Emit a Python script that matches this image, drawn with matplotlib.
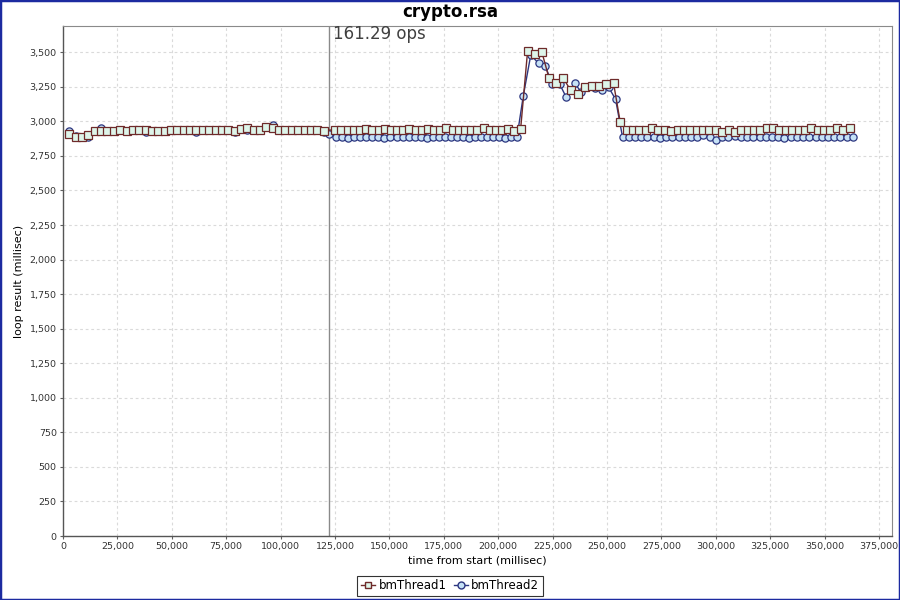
import matplotlib
matplotlib.use("Agg")
import matplotlib.pyplot as plt
from matplotlib.ticker import FuncFormatter, MultipleLocator
from matplotlib.lines import Line2D
from matplotlib.patches import Rectangle

title = "crypto.rsa"
marker_label = "161.29 ops"
marker_time = 122400
series_names = ["bmThread1", "bmThread2"]

# bmThread1: time from start (ms) and loop result (ms)
t1 = [2900, 5820, 8740, 11670, 14590, 17510, 20430, 23350, 26280, 29200,
      32120, 35040, 37960, 40890, 43810, 46730, 49650, 52570, 55500, 58420,
      61340, 64260, 67180, 70110, 73030, 75950, 78870, 81790, 84720, 87640,
      90560, 93480, 96400, 99330, 102250, 105170, 108090, 111010, 113940, 116860,
      119780,
      125140, 127980, 130820, 133660, 136500, 139340, 142170, 145010, 147850, 150690,
      153530, 156370, 159210, 162050, 164890, 167730, 170560, 173400, 176240, 179080,
      181920, 184760, 187600, 190440, 193280, 196120, 198950, 201790, 204630, 207470,
      210310,
      213510, 216800, 220100, 223390, 226680, 229980, 233270, 236560, 239850, 243150,
      246440, 249730, 253030,
      256110, 259040, 261960, 264890, 267820, 270750, 273670, 276600, 279530, 282450,
      285380, 288310, 291230, 294160, 297090, 300020, 302940, 305870, 308800, 311720,
      314650, 317580, 320500, 323430, 326360, 329290, 332210, 335140, 338070, 340990,
      343920, 346850, 349770, 352700, 355630, 358560, 361480]
v1 = [2907, 2890, 2890, 2902, 2931, 2933, 2931, 2933, 2938, 2931,
      2935, 2938, 2938, 2933, 2933, 2933, 2935, 2940, 2940, 2938,
      2938, 2938, 2938, 2940, 2940, 2938, 2933, 2943, 2950, 2940,
      2940, 2960, 2955, 2935, 2935, 2935, 2935, 2940, 2940, 2940,
      2933,
      2940, 2935, 2935, 2935, 2938, 2945, 2938, 2935, 2945, 2935,
      2940, 2938, 2945, 2935, 2938, 2945, 2935, 2938, 2955, 2935,
      2938, 2935, 2938, 2935, 2955, 2938, 2935, 2940, 2945, 2930,
      2943,
      3507, 3488, 3500, 3312, 3276, 3312, 3225, 3198, 3247, 3256,
      3256, 3271, 3276,
      2993, 2938, 2938, 2935, 2938, 2950, 2938, 2938, 2930, 2938,
      2940, 2938, 2938, 2935, 2938, 2938, 2925, 2938, 2925, 2938,
      2938, 2940, 2938, 2950, 2950, 2938, 2938, 2935, 2938, 2938,
      2950, 2938, 2938, 2938, 2950, 2935, 2950]

# bmThread2
t2 = [2900, 5820, 8740, 11670, 14590, 17510, 20430, 23350, 26280, 29200,
      32120, 35040, 37960, 40890, 43810, 46730, 49650, 52570, 55500, 58420,
      61340, 64260, 67180, 70110, 73030, 75950, 78870, 81790, 84720, 87640,
      90560, 93480, 96400, 99330, 102250, 105170, 108090, 111010, 113940, 116860,
      119780, 122400,
      125600, 128370, 131140, 133900, 136670, 139440, 142210, 144980, 147740, 150510,
      153280, 156050, 158820, 161580, 164350, 167120, 169890, 172660, 175420, 178190,
      180960, 183730, 186500, 189260, 192030, 194800, 197570, 200340, 203100, 205870,
      208640,
      211540, 214980, 218570, 221650, 224730, 228220, 231300, 235110, 238050, 240810,
      244300, 247520, 250740, 253950,
      257170, 260030, 262890, 265750, 268610, 271480, 274340, 277200, 280060, 282920,
      285780, 288640, 291500, 294360, 297220, 300090, 302950, 305810, 308670, 311530,
      314390, 317250, 320110, 322970, 325830, 328700, 331560, 334420, 337280, 340140,
      343000, 345860, 348720, 351580, 354440, 357310, 360170, 363030]
v2 = [2930, 2892, 2890, 2885, 2931, 2955, 2931, 2933, 2938, 2931,
      2935, 2938, 2925, 2933, 2933, 2933, 2935, 2940, 2940, 2938,
      2925, 2938, 2938, 2940, 2940, 2938, 2925, 2943, 2935, 2940,
      2940, 2960, 2975, 2935, 2935, 2935, 2935, 2940, 2940, 2940,
      2925, 2905,
      2885, 2885, 2883, 2885, 2885, 2888, 2885, 2885, 2883, 2885,
      2885, 2888, 2885, 2885, 2885, 2883, 2885, 2885, 2888, 2885,
      2885, 2885, 2883, 2885, 2885, 2888, 2885, 2885, 2883, 2890,
      2885,
      3184, 3480, 3420, 3403, 3271, 3271, 3174, 3276, 3215, 3247,
      3240, 3227, 3247, 3160,
      2885, 2885, 2885, 2888, 2885, 2885, 2882, 2885, 2885, 2885,
      2885, 2888, 2885, 2898, 2890, 2865, 2885, 2885, 2893, 2885,
      2885, 2885, 2888, 2885, 2885, 2885, 2882, 2885, 2885, 2885,
      2885, 2888, 2885, 2885, 2885, 2885, 2888, 2885]

c1_line, c1_face = "#6e2a2a", "#def5ea"
c2_line, c2_face = "#2c3680", "#c6e2f6"

fig = plt.figure(figsize=(9, 6), dpi=100)
fig.patch.set_facecolor("white")
fig.add_artist(Rectangle((0, 0), 1, 1, transform=fig.transFigure, fill=False,
                         edgecolor="#1c2aa0", linewidth=2.5))

ax = fig.add_axes([63 / 900, 1 - 536 / 600, (892 - 63) / 900, (536 - 26) / 600])
ax.set_xlim(0, 381000)
ax.set_ylim(0, 3690)

ax.plot(t2, v2, color=c2_line, lw=1, marker="o", ms=5.2, mfc=c2_face,
        mec=c2_line, mew=0.9, zorder=3)
ax.plot(t1, v1, color=c1_line, lw=1, marker="s", ms=5.4, mfc=c1_face,
        mec=c1_line, mew=0.9, zorder=4)

ax.axvline(marker_time, color="#8a8a8a", lw=1, zorder=2)
ax.text(marker_time + 1800, 3690 + 8, marker_label, ha="left", va="top",
        fontsize=12, color="#404040")

ax.xaxis.set_major_locator(MultipleLocator(25000))
ax.yaxis.set_major_locator(MultipleLocator(250))
fmt = FuncFormatter(lambda v, _: f"{int(round(v)):,}")
ax.xaxis.set_major_formatter(fmt)
ax.yaxis.set_major_formatter(fmt)
ax.grid(True, color="#dadada", lw=0.8, linestyle=(0, (2.5, 2.5)), zorder=0)
ax.tick_params(labelsize=6.8, length=2.5, pad=2, color="#606060", labelcolor="#333333")

for s in ["top", "right"]:
    ax.spines[s].set_color("#8a8a8a")
    ax.spines[s].set_linewidth(0.8)
for s in ["left", "bottom"]:
    ax.spines[s].set_color("#555555")
    ax.spines[s].set_linewidth(1.0)

ax.set_xlabel("time from start (millisec)", fontsize=8, labelpad=3)
ax.set_ylabel("loop result (millisec)", fontsize=8, labelpad=4)
fig.text(0.5, 0.98, title, ha="center", va="center", fontsize=12, fontweight="bold")

handles = [
    Line2D([], [], color=c1_line, lw=1, marker="s", ms=5, mfc=c1_face, mec=c1_line),
    Line2D([], [], color=c2_line, lw=1, marker="o", ms=5, mfc=c2_face, mec=c2_line),
]
leg = fig.legend(handles, series_names, loc="lower center", bbox_to_anchor=(0.5, 0.003),
                 ncol=2, fontsize=8.5, frameon=True, fancybox=False, handlelength=1.2,
                 handletextpad=0.3, columnspacing=0.6, borderpad=0.3,
                 borderaxespad=0.2)
leg.get_frame().set_edgecolor("black")
leg.get_frame().set_linewidth(0.8)

fig.savefig("out.png", dpi=100)
